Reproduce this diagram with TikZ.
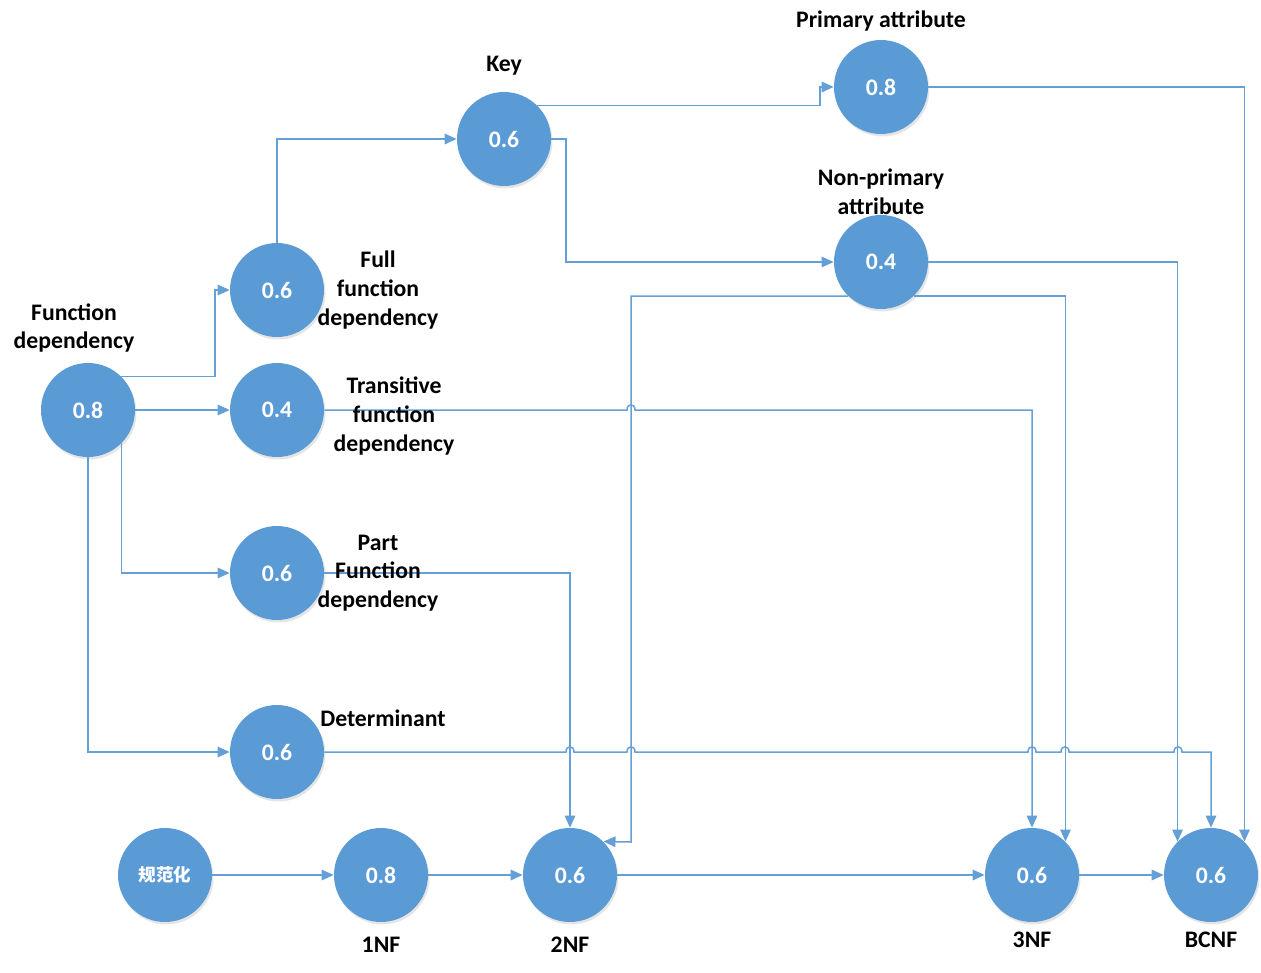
\documentclass[tikz,border=0pt]{standalone}
\usepackage{fontspec}
\setmainfont{Carlito}
\newfontfamily\cjk{Noto Sans CJK SC}
\usetikzlibrary{positioning,arrows.meta,shadows}
\definecolor{nodeblue}{RGB}{91,155,213}
\definecolor{lineblue}{RGB}{100,160,215}

\begin{document}
\begin{tikzpicture}[x=0.02cm, y=-0.02cm,
    every node/.style={font=\fontsize{13.5}{16.4}\selectfont\bfseries},
    val/.style={circle, fill=nodeblue, text=white, minimum size=1.88cm, inner sep=0pt,
        drop shadow={shadow xshift=0.3mm, shadow yshift=-0.5mm, opacity=0.2}},
    lbl/.style={align=center, inner sep=0pt},
    link/.style={draw=lineblue, line width=0.3mm, -{Triangle[length=2.4mm,width=2.1mm]}}]
        \useasboundingbox[fill=white] (0,0) rectangle (1261,973);
        % circles
        \node[val] (fd) at (88,410) {0.8};
        \node[val] (ffd) at (277,290) {0.6};
        \node[val] (tfd) at (277,410) {0.4};
        \node[val] (pfd) at (277,573) {0.6};
        \node[val] (det) at (277,752) {0.6};
        \node[val] (key) at (504,139) {0.6};
        \node[val] (pa) at (881,87) {0.8};
        \node[val] (npa) at (881,262) {0.4};
        \node[val, font=\cjk\fontsize{10}{12}\selectfont\bfseries] (norm) at (165,875) {规范化};
        \node[val] (nf1) at (381,875) {0.8};
        \node[val] (nf2) at (570,875) {0.6};
        \node[val] (nf3) at (1032,875) {0.6};
        \node[val] (bcnf) at (1211,875) {0.6};
        % connectors
        \draw[link] (fd.45) -| (215,290) -- (ffd.west);
        \draw[link] (fd.east) -- (tfd.west);
        \draw[link] (fd.-45) |- (pfd.west);
        \draw[link] (fd.south) |- (det.west);
        \draw[link] (ffd.north) |- (key.west);
        \draw[link] (key.45) -| (820,87) -- (pa.west);
        \draw[link] (key.east) -| (566,262) -- (npa.west);
        \draw[link] (npa.-134) -| (631,842) -- (nf2.45);
        \draw[link] (npa.-46) -| (nf3.45);
        \draw[link] (tfd.east) -- (627,410) .. controls (627,403) and (635,403) .. (635,410)
            -- (1032,410) -- (nf3.north);
        \draw[link] (pfd.east) -| (nf2.north);
        \draw[link] (det.east) -- (566,752) .. controls (566,745) and (574,745) .. (574,752)
            -- (627,752) .. controls (627,745) and (635,745) .. (635,752)
            -- (1028,752) .. controls (1028,745) and (1036,745) .. (1036,752)
            -- (1061,752) .. controls (1061,745) and (1069,745) .. (1069,752)
            -- (1174,752) .. controls (1174,745) and (1182,745) .. (1182,752)
            -- (1211,752) -- (bcnf.north);
        \draw[link] (pa.east) -| (bcnf.45);
        \draw[link] (npa.east) -| (bcnf.135);
        \draw[link] (norm.east) -- (nf1.west);
        \draw[link] (nf1.east) -- (nf2.west);
        \draw[link] (nf2.east) -- (nf3.west);
        \draw[link] (nf3.east) -- (bcnf.west);
        % labels
        \node[lbl] (lfd) at (74,328) {Function\\dependency};
        \node[lbl] (lffd) at (378,290) {Full\\function\\dependency};
        \node[lbl] (ltfd) at (394,416) {Transitive\\function\\dependency};
        \node[lbl] (lpfd) at (378,573) {Part\\Function\\dependency};
        \node[lbl] (ldet) at (383,718) {Determinant};
        \node[lbl] (lkey) at (504,66) {Key};
        \node[lbl] (lpa) at (881,21) {Primary attribute};
        \node[lbl] (lnpa) at (881,192) {Non-primary\\attribute};
        \node[lbl] (l1nf) at (381,945) {1NF};
        \node[lbl] (l2nf) at (570,945) {2NF};
        \node[lbl] (l3nf) at (1032,940) {3NF};
        \node[lbl] (lbcnf) at (1211,940) {BCNF};
    \end{tikzpicture}
\end{document}
